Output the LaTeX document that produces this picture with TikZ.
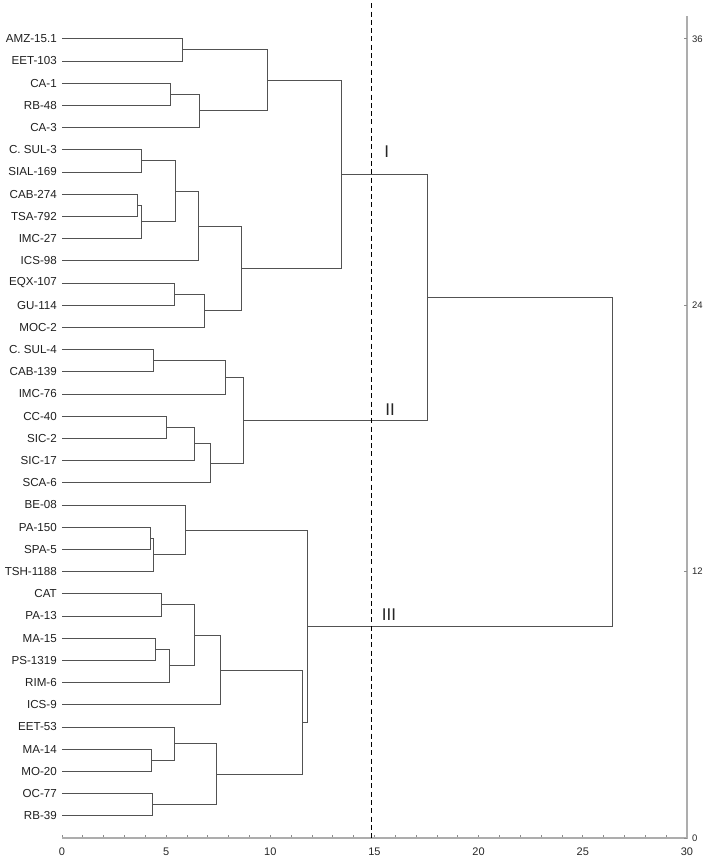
\documentclass[tikz,border=0pt]{standalone}
\usepackage{fontspec}
\setmainfont{Liberation Sans}
\begin{document}
\begin{tikzpicture}[x=20.83pt,y=22.2pt,
  dlink/.style={draw=black!68,line width=0.9pt},
  leaf/.style={anchor=east,inner sep=0pt,xshift=-5pt,font=\fontsize{11.6}{12}\selectfont,text=black!88},
  axisline/.style={draw=black!32,line width=1.7pt},
  tickmark/.style={draw=black!45,line width=0.8pt},
  xlab/.style={inner sep=0pt,font=\fontsize{11}{12}\selectfont,text=black!85},
  ylab/.style={anchor=west,inner sep=0pt,font=\fontsize{9.5}{10}\selectfont,text=black!85},
  roman/.style={inner sep=0pt,font=\fontsize{17}{18}\selectfont,text=black!85},
  cut/.style={draw=black,line width=1.2pt,dash pattern=on 5pt off 3.3pt}]
\useasboundingbox (-62pt,-21pt) rectangle (644pt,838pt);
\newcommand\jn[3]{\draw[dlink] (#2) -- (#2 -| #1) -- (#3 -| #1) -- (#3);}
% leaves
\foreach \i/\t in {1/AMZ-15.1,2/EET-103,3/CA-1,4/RB-48,5/CA-3,6/C. SUL-3,7/SIAL-169,8/CAB-274,9/TSA-792,10/IMC-27,11/ICS-98,12/EQX-107,13/GU-114,14/MOC-2,15/C. SUL-4,16/CAB-139,17/IMC-76,18/CC-40,19/SIC-2,20/SIC-17,21/SCA-6,22/BE-08,23/PA-150,24/SPA-5,25/TSH-1188,26/CAT,27/PA-13,28/MA-15,29/PS-1319,30/RIM-6,31/ICS-9,32/EET-53,33/MA-14,34/MO-20,35/OC-77,36/RB-39}{
  \coordinate (l\i) at (0,37-\i);
  \node[leaf] (n\i) at (l\i) {\t};
}
% cluster points
\coordinate (a1) at (5.78,35.5);
\coordinate (a2) at (5.19,33.5);
\coordinate (a3) at (6.61,32.75);
\coordinate (A) at (9.84,34.125);
\coordinate (b1) at (3.82,30.5);
\coordinate (b2) at (3.61,28.5);
\coordinate (b3) at (3.83,27.75);
\coordinate (b4) at (5.45,29.125);
\coordinate (b5) at (6.55,27.5625);
\coordinate (b6) at (5.38,24.5);
\coordinate (b7) at (6.82,23.75);
\coordinate (B) at (8.62,25.65625);
\coordinate (GI) at (13.40,29.890625);
\coordinate (c1) at (4.38,21.5);
\coordinate (c2) at (7.84,20.75);
\coordinate (c3) at (5.03,18.5);
\coordinate (c4) at (6.34,17.75);
\coordinate (c5) at (7.11,16.875);
\coordinate (GII) at (8.69,18.8125);
\coordinate (J) at (17.55,24.3515625);
\coordinate (d1) at (4.25,13.5);
\coordinate (d2) at (4.38,12.75);
\coordinate (d3) at (5.94,13.875);
\coordinate (e1) at (4.76,10.5);
\coordinate (e2) at (4.47,8.5);
\coordinate (e3) at (5.14,7.75);
\coordinate (e4) at (6.34,9.125);
\coordinate (e5) at (7.62,7.5625);
\coordinate (f1) at (4.30,3.5);
\coordinate (f2) at (5.38,4.25);
\coordinate (f3) at (4.33,1.5);
\coordinate (f4) at (7.41,2.875);
\coordinate (g) at (11.56,5.21875);
\coordinate (GIII) at (11.80,9.546875);
\coordinate (R) at (26.42,16.94921875);
% joins
\jn{a1}{l1}{l2}
\jn{a2}{l3}{l4}
\jn{a3}{a2}{l5}
\jn{A}{a1}{a3}
\jn{b1}{l6}{l7}
\jn{b2}{l8}{l9}
\jn{b3}{b2}{l10}
\jn{b4}{b1}{b3}
\jn{b5}{b4}{l11}
\jn{b6}{l12}{l13}
\jn{b7}{b6}{l14}
\jn{B}{b5}{b7}
\jn{GI}{A}{B}
\jn{c1}{l15}{l16}
\jn{c2}{c1}{l17}
\jn{c3}{l18}{l19}
\jn{c4}{c3}{l20}
\jn{c5}{c4}{l21}
\jn{GII}{c2}{c5}
\jn{J}{GI}{GII}
\jn{d1}{l23}{l24}
\jn{d2}{d1}{l25}
\jn{d3}{l22}{d2}
\jn{e1}{l26}{l27}
\jn{e2}{l28}{l29}
\jn{e3}{e2}{l30}
\jn{e4}{e1}{e3}
\jn{e5}{e4}{l31}
\jn{f1}{l33}{l34}
\jn{f2}{l32}{f1}
\jn{f3}{l35}{l36}
\jn{f4}{f2}{f3}
\jn{g}{e5}{f4}
\jn{GIII}{d3}{g}
\jn{R}{J}{GIII}
% axes
\coordinate (o) at (0,0);
\coordinate (xe) at (30,0);
\coordinate (yt) at (30,37.03);
\foreach \k in {0,...,30}{\draw[tickmark] (\k,0) -- ++(0,2.5pt);}
\draw[axisline] (o) -- (xe) -- (yt);
\foreach \k in {0,5,...,30}{\node[xlab] (xl\k) at ([yshift=-14pt]\k,0) {\k};}
\foreach \k in {0,12,24,36}{
  \draw[tickmark] (30,\k) -- ++(-3pt,0);
  \node[ylab] (yl\k) at ([xshift=5pt]30,\k) {\k};
}
% cut line
\coordinate (ct) at (14.85,37.6);
\coordinate (cb) at (14.85,0);
\draw[cut] (ct) -- (cb);
% group labels
\node[roman] (rI) at (15.59,30.9) {I};
\node[roman] (rII) at (15.75,19.28) {II};
\node[roman] (rIII) at (15.70,10.05) {III};
\end{tikzpicture}
\end{document}
